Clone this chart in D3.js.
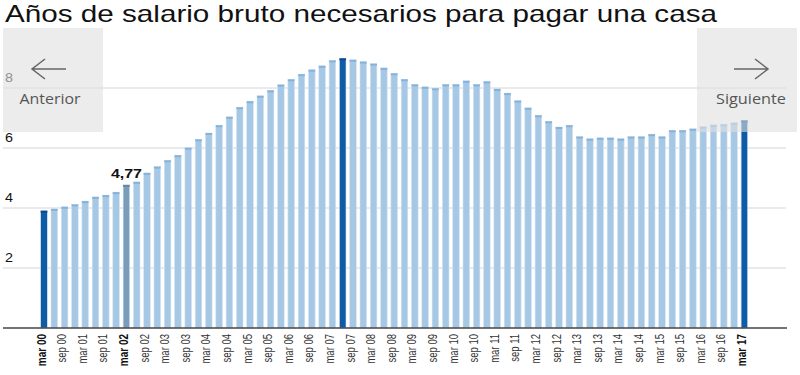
<!DOCTYPE html>
<html>
<head>
<meta charset="utf-8">
<script src="https://cdn.jsdelivr.net/npm/d3@7"></script>
<style>
  body { margin: 0; background: #fff; }
  svg { display: block; }
</style>
</head>
<body>
<div id="chart"></div>
<script>
var years = ['00','01','02','03','04','05','06','07','08','09','10','11','12','13','14','15','16','17'];
var months = ['mar','jun','sep','dic'];
var tickMonths = ['mar','sep'];
var boldTicks = ['mar 00','mar 02','mar 17'];

// años de salario bruto, trimestral mar 00 - mar 17
var values = [
  3.91, 3.97, 4.04, 4.12, 4.23, 4.37, 4.43, 4.53, 4.77, 4.87,
  5.17, 5.38, 5.59, 5.76, 6.01, 6.29, 6.50, 6.76, 7.04, 7.36,
  7.56, 7.74, 7.92, 8.11, 8.29, 8.46, 8.61, 8.74, 8.92, 8.99,
  8.94, 8.88, 8.81, 8.67, 8.49, 8.29, 8.12, 8.04, 7.99, 8.12,
  8.12, 8.24, 8.12, 8.22, 7.97, 7.83, 7.58, 7.34, 7.09, 6.89,
  6.70, 6.76, 6.38, 6.31, 6.34, 6.34, 6.31, 6.38, 6.38, 6.46,
  6.38, 6.59, 6.59, 6.64, 6.71, 6.77, 6.79, 6.84, 6.92
];
var darkBars = ['mar 00','jun 07','mar 17'];
var markedBar = 'mar 02';
var markedLabel = '4,77';
var yTicks = [2, 4, 6, 8];

var periods = [];
years.forEach(function(y){
  months.forEach(function(m){
    if (periods.length < values.length) periods.push(m + ' ' + y);
  });
});
var data = periods.map(function(p, i){ return {period: p, value: values[i]}; });

var width = 800, height = 375;
var svg = d3.select('#chart').append('svg')
  .attr('width', width)
  .attr('height', height);

var x = d3.scaleBand()
  .domain(periods)
  .range([38.85, 749.55])
  .paddingInner(0.36)
  .paddingOuter(0.18);

var y = d3.scaleLinear()
  .domain([0, 8])
  .range([328, 88]);

//title
svg.append('text')
  .attr('x', 5)
  .attr('y', 22)
  .attr('font-family', 'Liberation Sans, Arial, sans-serif')
  .attr('font-size', 24)
  .attr('textLength', 712)
  .attr('lengthAdjust', 'spacingAndGlyphs')
  .attr('fill', '#111')
  .text('Años de salario bruto necesarios para pagar una casa');

//gridlines
svg.append('g').selectAll('line')
  .data(yTicks)
  .enter().append('line')
    .attr('x1', 3).attr('x2', 786)
    .attr('y1', function(d){ return y(d); })
    .attr('y2', function(d){ return y(d); })
    .attr('stroke', '#d6d6d6')
    .attr('stroke-width', 1.2);

svg.append('g').selectAll('text')
  .data(yTicks)
  .enter().append('text')
    .attr('x', 5)
    .attr('y', function(d){ return y(d) - 6; })
    .attr('font-family', 'Liberation Sans, Arial, sans-serif')
    .attr('font-size', 13)
    .attr('textLength', 8)
    .attr('lengthAdjust', 'spacingAndGlyphs')
    .attr('fill', '#111')
    .text(function(d){ return d; });

//bars
function barFill(d) {
  if (darkBars.indexOf(d.period) >= 0) return '#0e5ba6';
  if (d.period == markedBar) return '#7a9cb8';
  return '#a6c8e4';
}
function capFill(d) {
  if (darkBars.indexOf(d.period) >= 0) return '#0a4a8c';
  if (d.period == markedBar) return '#66889f';
  return '#86b3da';
}

var bars = svg.append('g');
bars.selectAll('.bar')
  .data(data)
  .enter().append('rect')
    .attr('class', 'bar')
    .attr('x', function(d){ return x(d.period); })
    .attr('y', function(d){ return y(d.value); })
    .attr('width', x.bandwidth())
    .attr('height', function(d){ return y(0) - y(d.value); })
    .attr('fill', barFill)
    .attr('stroke', '#d3e4f3')
    .attr('stroke-width', 0.6);
bars.selectAll('.cap')
  .data(data)
  .enter().append('rect')
    .attr('class', 'cap')
    .attr('x', function(d){ return x(d.period); })
    .attr('y', function(d){ return y(d.value); })
    .attr('width', x.bandwidth())
    .attr('height', 2)
    .attr('fill', capFill);

//value label
var marked = data.filter(function(d){ return d.period == markedBar; })[0];
svg.append('text')
  .attr('x', x(marked.period) + x.bandwidth() / 2)
  .attr('y', y(marked.value) - 7)
  .attr('text-anchor', 'middle')
  .attr('font-family', 'Liberation Sans, Arial, sans-serif')
  .attr('font-size', 13)
  .attr('font-weight', 'bold')
  .attr('textLength', 31)
  .attr('lengthAdjust', 'spacingAndGlyphs')
  .attr('fill', '#111')
  .text(markedLabel);

//x axis
svg.append('line')
  .attr('x1', 3).attr('x2', 787)
  .attr('y1', y(0)).attr('y2', y(0))
  .attr('stroke', '#444')
  .attr('stroke-width', 1.5);

var xAxis = d3.axisBottom(x)
  .tickValues(periods.filter(function(p){ return tickMonths.indexOf(p.split(' ')[0]) >= 0; }))
  .tickSize(0);

var gx = svg.append('g')
  .attr('transform', 'translate(0,' + y(0) + ')')
  .call(xAxis);
gx.select('.domain').remove();
gx.selectAll('text')
  .attr('transform', 'scale(1.25,1) rotate(-90)')
  .attr('x', -6)
  .attr('y', -2)
  .attr('dy', '0.35em')
  .attr('text-anchor', 'end')
  .attr('font-family', 'Liberation Sans, Arial, sans-serif')
  .attr('font-size', function(d){ return boldTicks.indexOf(d) >= 0 ? 10 : 9.5; })
  .attr('font-weight', function(d){ return boldTicks.indexOf(d) >= 0 ? 'bold' : 'normal'; })
  .attr('fill', function(d){ return boldTicks.indexOf(d) >= 0 ? '#111' : '#333'; });

//navigation overlays
var navs = [
  {label: 'Anterior', x0: 3, x1: 103, dir: -1, cx: 50, ax: 49},
  {label: 'Siguiente', x0: 697, x1: 797, dir: 1, cx: 751, ax: 751}
];
var nav = svg.append('g').selectAll('g')
  .data(navs)
  .enter().append('g');
nav.append('rect')
  .attr('x', function(d){ return d.x0; })
  .attr('y', 28)
  .attr('width', function(d){ return d.x1 - d.x0; })
  .attr('height', 104)
  .attr('fill', '#e0e0e0')
  .attr('fill-opacity', 0.6);
nav.append('path')
  .attr('d', function(d){
    var tip = d.ax + d.dir * 17, tail = d.ax - d.dir * 17;
    return 'M' + tail + ',69L' + tip + ',69' +
      'M' + (tip - d.dir * 13) + ',59L' + tip + ',69L' + (tip - d.dir * 13) + ',79';
  })
  .attr('fill', 'none')
  .attr('stroke', '#666')
  .attr('stroke-width', 1.5);
nav.append('text')
  .attr('x', function(d){ return d.cx; })
  .attr('y', 104)
  .attr('text-anchor', 'middle')
  .attr('font-family', 'Open Sans, Lato, sans-serif')
  .attr('font-size', 14)
  .attr('textLength', function(d){ return d.label == 'Anterior' ? 61 : 70; })
  .attr('lengthAdjust', 'spacingAndGlyphs')
  .attr('fill', '#555')
  .text(function(d){ return d.label; });
</script>
</body>
</html>
